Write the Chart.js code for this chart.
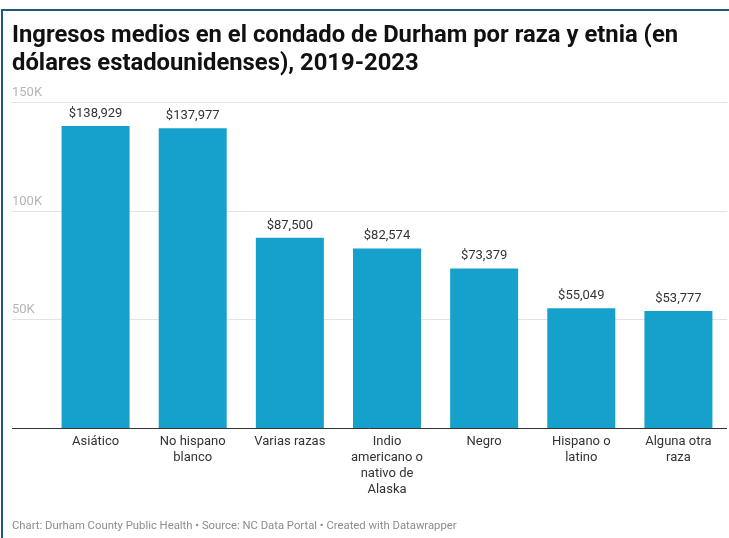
<!DOCTYPE html>
<html>
<head>
<meta charset="utf-8">
<script src="https://cdn.jsdelivr.net/npm/chart.js@4/dist/chart.umd.min.js"></script>
<style>
  html, body { margin: 0; padding: 0; background: #fff; }
  #wrap { position: relative; width: 729px; height: 538px; overflow: hidden; font-family: Roboto, "Noto Sans", sans-serif; }
  #frame { position: absolute; left: 1px; top: 9px; width: 800px; height: 600px; border-top: 2px solid #1e5a7a; border-left: 2px solid #1e5a7a; }
  #title { position: absolute; left: 12px; top: 20px; width: 715px; font-weight: 700; font-size: 23.8px; line-height: 28px; color: #111; z-index: 2; white-space: nowrap; }
  #footer { position: absolute; left: 12px; top: 519px; font-size: 11.3px; color: #8c8c8c; z-index: 2; white-space: nowrap; }
  canvas { position: absolute; left: 0; top: 0; }
</style>
</head>
<body>
<div id="wrap">
  <div id="frame"></div>
  <div id="title">Ingresos medios en el condado de Durham por raza y etnia (en<br>dólares estadounidenses), 2019-2023</div>
  <canvas id="c" width="729" height="538"></canvas>
  <div id="footer">Chart: Durham County Public Health • Source: NC Data Portal • Created with Datawrapper</div>
</div>
<script>
const categories = [
  ["Asiático"],
  ["No hispano", "blanco"],
  ["Varias razas"],
  ["Indio", "americano o", "nativo de", "Alaska"],
  ["Negro"],
  ["Hispano o", "latino"],
  ["Alguna otra", "raza"]
];
const incomes = [138929, 137977, 87500, 82574, 73379, 55049, 53777];
const yTicks = [50000, 100000, 150000];
const yTickLabels = ["50K", "100K", "150K"];

const gridPlugin = {
  id: 'dwGrid',
  beforeDatasetsDraw(chart) {
    const ctx = chart.ctx, y = chart.scales.y, area = chart.chartArea;
    ctx.save();
    ctx.font = '13px Roboto, sans-serif';
    ctx.textAlign = 'left';
    ctx.textBaseline = 'alphabetic';
    yTicks.forEach((v, i) => {
      const py = Math.round(y.getPixelForValue(v)) + 0.5;
      ctx.strokeStyle = '#e3e3e3';
      ctx.lineWidth = 1;
      ctx.beginPath(); ctx.moveTo(12, py); ctx.lineTo(area.right, py); ctx.stroke();
      ctx.fillStyle = '#b5b5b5';
      ctx.fillText(yTickLabels[i], 12, py - 7);
    });
    ctx.restore();
  },
  afterDatasetsDraw(chart) {
    const ctx = chart.ctx, y = chart.scales.y, area = chart.chartArea;
    ctx.save();
    const py = Math.round(y.getPixelForValue(0)) + 0.5;
    ctx.strokeStyle = '#333';
    ctx.lineWidth = 1;
    ctx.beginPath(); ctx.moveTo(12, py); ctx.lineTo(area.right, py); ctx.stroke();
    ctx.font = '13px Roboto, sans-serif';
    ctx.fillStyle = '#333';
    ctx.textAlign = 'center';
    ctx.textBaseline = 'bottom';
    const meta = chart.getDatasetMeta(0);
    meta.data.forEach((bar, i) => {
      ctx.fillText('$' + incomes[i].toLocaleString('en-US'), bar.x, bar.y - 6);
    });
    ctx.restore();
  }
};

new Chart(document.getElementById('c'), {
  type: 'bar',
  data: {
    labels: categories,
    datasets: [{
      data: incomes,
      backgroundColor: '#16a0cc',
      borderWidth: 0,
      categoryPercentage: 1,
      barPercentage: 0.7
    }]
  },
  options: {
    responsive: false,
    animation: false,
    devicePixelRatio: 1,
    layout: { padding: { top: 102, left: 47, right: 2, bottom: 10 } },
    plugins: { legend: { display: false }, tooltip: { enabled: false }, title: { display: false } },
    scales: {
      y: { display: false, min: 0, max: 150000 },
      x: {
        grid: { display: false, drawTicks: false },
        border: { display: false },
        ticks: { color: '#333', font: { family: 'Roboto, sans-serif', size: 13, lineHeight: 1.23 }, padding: 6, maxRotation: 0, autoSkip: false },
        afterFit(s) { s.height = 100; }
      }
    }
  },
  plugins: [gridPlugin]
});
</script>
</body>
</html>
